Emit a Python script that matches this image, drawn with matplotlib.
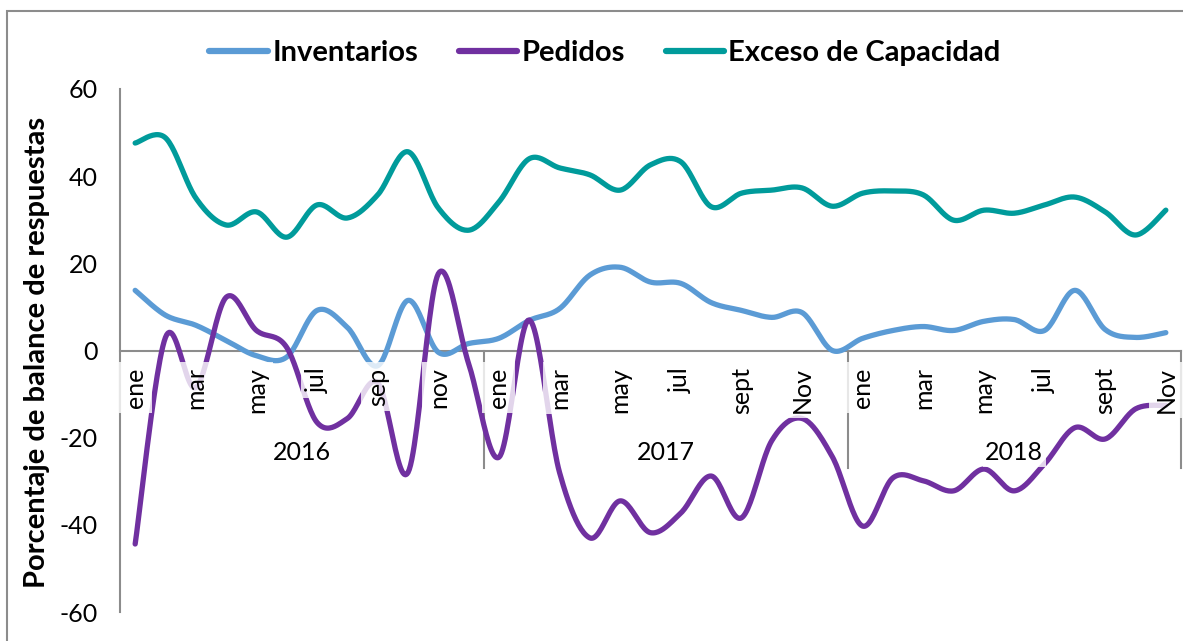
import matplotlib
matplotlib.use("Agg")
import matplotlib.pyplot as plt
import numpy as np
from matplotlib.patches import Rectangle

plt.rcParams["font.family"] = ["Lato", "DejaVu Sans"]
plt.rcParams["axes.unicode_minus"] = False

# ---------------------------------------------------------------------------
# Data (ene 2016 .. nov 2018)
# ---------------------------------------------------------------------------
years = ["2016", "2017", "2018"]
months_per_year = [12, 12, 11]
month_labels = {
    "2016": ["ene", "mar", "may", "jul", "sep", "nov"],
    "2017": ["ene", "mar", "may", "jul", "sept", "Nov"],
    "2018": ["ene", "mar", "may", "jul", "sept", "Nov"],
}

inventarios = [
    13.8, 8.1, 5.8, 2.3, -1.2, -1.5, 9.2, 5.3, -3.5, 11.5, -0.4, 1.6,
    2.8, 6.9, 9.6, 17.3, 19.1, 15.7, 15.4, 11.0, 9.2, 7.6, 8.7, 0.0,
    2.8, 4.6, 5.5, 4.6, 6.7, 7.1, 4.6, 13.8, 4.8, 3.0, 4.1,
]
pedidos = [
    -44.4, 3.0, -8.5, 12.2, 4.6, 0.7, -16.5, -15.6, -7.4, -28.0, 17.6, -3.0,
    -24.5, 7.0, -28.0, -43.0, -34.5, -41.8, -37.3, -28.8, -38.4, -20.7, -15.6, -24.4,
    -40.3, -29.2, -29.9, -32.2, -27.2, -32.2, -26.0, -17.7, -20.3, -13.4, -12.6,
]
exceso = [
    47.6, 48.8, 35.0, 28.8, 31.8, 26.0, 33.4, 30.4, 35.7, 45.6, 32.7, 27.6,
    34.1, 44.0, 41.9, 40.3, 36.8, 42.6, 43.3, 33.0, 36.1, 36.8, 37.3, 33.1,
    36.1, 36.6, 35.7, 29.9, 32.2, 31.5, 33.4, 35.2, 31.8, 26.5, 32.2,
]

series = [
    ("Inventarios", inventarios, "#5B9BD5"),
    ("Pedidos", pedidos, "#7030A0"),
    ("Exceso de Capacidad", exceso, "#009B9B"),
]


def smooth(y, n=24):
    """Excel-like smoothed line (Catmull-Rom as cubic Bezier segments)."""
    y = np.asarray(y, float)
    x = np.arange(len(y), dtype=float)
    px = np.concatenate([[x[0]], x, [x[-1]]])
    py = np.concatenate([[y[0]], y, [y[-1]]])
    t = np.linspace(0, 1, n, endpoint=False)[:, None]
    out = []
    for k in range(1, len(px) - 2):
        p0 = np.array([px[k - 1], py[k - 1]])
        p1 = np.array([px[k], py[k]])
        p2 = np.array([px[k + 1], py[k + 1]])
        p3 = np.array([px[k + 2], py[k + 2]])
        c1 = p1 + (p2 - p0) / 6
        c2 = p2 - (p3 - p1) / 6
        seg = ((1 - t) ** 3) * p1 + 3 * ((1 - t) ** 2) * t * c1 \
            + 3 * (1 - t) * t ** 2 * c2 + t ** 3 * p2
        out.append(seg)
    out.append(np.array([[x[-1], y[-1]]]))
    out = np.vstack(out)
    return out[:, 0], out[:, 1]


fig = plt.figure(figsize=(11.83, 6.41), dpi=100)
ax = fig.add_axes([120 / 1183, 29 / 641, 1061 / 1183, 523 / 641])

grey = "#8C8C8C"
for name, vals, color in series:
    xs, ys = smooth(vals)
    ax.plot(xs, ys, color=color, lw=3.8, solid_capstyle="round", label=name, zorder=3)

n_total = sum(months_per_year)
ax.set_xlim(-0.5, n_total - 0.5)
ax.set_ylim(-60, 60)

ax.spines["top"].set_visible(False)
ax.spines["right"].set_visible(False)
ax.spines["bottom"].set_position(("data", 0))
ax.spines["bottom"].set_color(grey)
ax.spines["left"].set_color(grey)
ax.spines["bottom"].set_linewidth(1.5)
ax.spines["left"].set_linewidth(1.5)
ax.spines["bottom"].set_zorder(2)
ax.spines["left"].set_zorder(2)

ax.set_xticks([])
ax.set_yticks(np.arange(-60, 61, 20))
ax.tick_params(axis="y", length=0, pad=16, labelsize=18)

# month labels + year groups
start = 0
for yr, nm in zip(years, months_per_year):
    for j, lab in enumerate(month_labels[yr]):
        ax.text(start + 2 * j, -3.9, lab, rotation=90, ha="center", va="top",
                fontsize=18, zorder=5,
                bbox=dict(boxstyle="square,pad=0.2", fc="white", ec="none", alpha=0.8))
    end = start + nm - 0.5
    ax.plot([end, end], [0, -26.9], color=grey, lw=1.5, clip_on=False, zorder=2)
    ax.text((start - 0.5 + end) / 2, -23.5, yr, ha="center", va="center", fontsize=18,
            zorder=5,
            bbox=dict(boxstyle="square,pad=0.1", fc="white", ec="none", alpha=0.8))
    start += nm

fig.text(37 / 1183, 1 - 352 / 641, "Porcentaje de balance de respuestas", rotation=90,
         ha="center", va="center", fontsize=21, fontweight="bold")

leg = fig.legend(loc="center", bbox_to_anchor=(605 / 1183, 1 - 53 / 641), ncol=3,
                 frameon=False, handlelength=2.0, handletextpad=0.15,
                 columnspacing=1.4, prop=dict(size=21, weight="bold"))
for line in leg.get_lines():
    line.set_linewidth(4.5)

# outer chart border (top & left visible)
fig.add_artist(Rectangle((7 / 1183, -0.1), 1.2, 1.1 - 11 / 641, transform=fig.transFigure,
                         fill=False, ec=grey, lw=1.5))

fig.savefig("out.png", dpi=100, facecolor="white")
